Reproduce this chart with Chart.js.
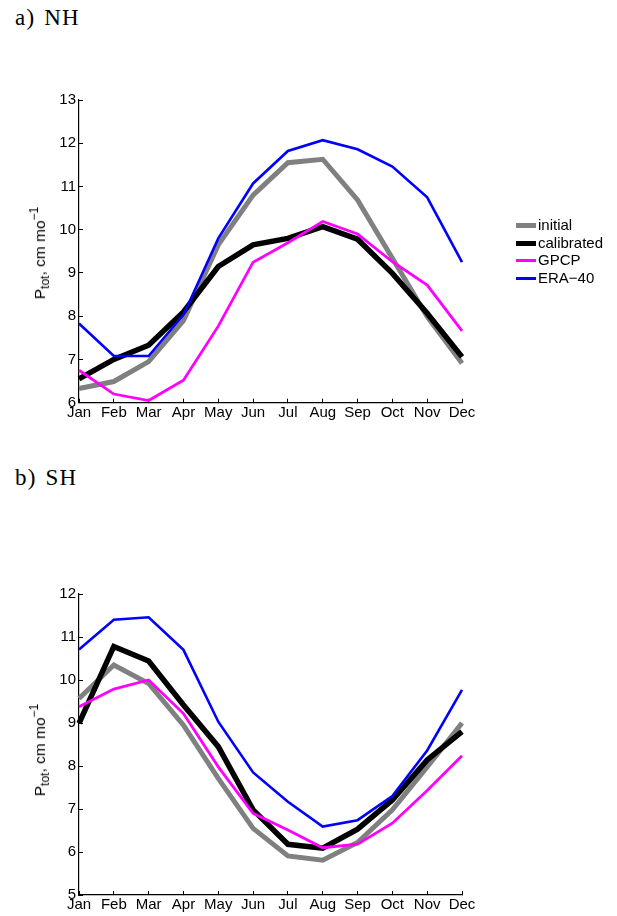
<!DOCTYPE html>
<html><head><meta charset="utf-8">
<script src="https://cdn.jsdelivr.net/npm/chart.js@4/dist/chart.umd.min.js"></script>
<style>
html,body{margin:0;padding:0;background:#fff;width:617px;height:916px;overflow:hidden;}
.wrap{position:absolute;left:0;width:617px;}
.ttl{position:absolute;left:15px;font-family:"Liberation Serif",serif;font-size:23px;letter-spacing:1.2px;word-spacing:2px;color:#000;white-space:nowrap;}
.ylab{position:absolute;font-family:"Liberation Sans",Arial,sans-serif;font-size:15.5px;color:#000;white-space:nowrap;transform:translate(-50%,-50%) rotate(-90deg);}
.ylab sub{font-size:12px;vertical-align:-4px;line-height:0;}
.ylab sup{font-size:12px;vertical-align:7px;line-height:0;}
.leg{position:absolute;left:516px;font-family:"Liberation Sans",Arial,sans-serif;font-size:15px;color:#000;}
.leg .row{position:absolute;left:0;height:18px;white-space:nowrap;}
.leg .sw{position:absolute;left:0;width:20px;}
.leg .tx{position:absolute;left:22px;top:0;line-height:18px;}
</style></head>
<body>
<div class="ttl" style="top:5px;">a) NH</div>
<div class="ttl" style="top:465px;">b) SH</div>
<div class="wrap" style="top:0;height:460px;"><canvas id="c1" width="617" height="460"></canvas></div>
<div class="wrap" style="top:460px;height:456px;"><canvas id="c2" width="617" height="456"></canvas></div>
<div class="ylab" style="left:40px;top:253px;">P<sub>tot</sub>, cm mo<sup>−1</sup></div>
<div class="ylab" style="left:40px;top:750px;">P<sub>tot</sub>, cm mo<sup>−1</sup></div>
<div class="leg" style="top:216px;">
  <div class="row" style="top:0;"><div class="sw" style="top:7px;height:5px;background:#808080;"></div><div class="tx">initial</div></div>
  <div class="row" style="top:18px;"><div class="sw" style="top:7px;height:5px;background:#000;"></div><div class="tx">calibrated</div></div>
  <div class="row" style="top:35px;"><div class="sw" style="top:8px;height:3px;background:#ff00ff;"></div><div class="tx">GPCP</div></div>
  <div class="row" style="top:53px;"><div class="sw" style="top:8px;height:3px;background:#0000ff;"></div><div class="tx">ERA−40</div></div>
</div>
<script>
const months = ["Jan","Feb","Mar","Apr","May","Jun","Jul","Aug","Sep","Oct","Nov","Dec"];
const seriesNames = ["initial","calibrated","GPCP","ERA\u221240"];

// a) NH
const nhInitial    = [6.33, 6.49, 6.95, 7.90, 9.65, 10.80, 11.55, 11.63, 10.69, 9.34, 7.99, 6.91];
const nhCalibrated = [6.55, 7.00, 7.33, 8.10, 9.15, 9.65, 9.80, 10.07, 9.78, 8.99, 8.07, 7.06];
const nhGPCP       = [6.75, 6.20, 6.05, 6.52, 7.77, 9.25, 9.70, 10.19, 9.90, 9.26, 8.72, 7.66];
const nhERA40      = [7.83, 7.08, 7.08, 8.03, 9.80, 11.07, 11.82, 12.07, 11.86, 11.46, 10.75, 9.25];

// b) SH
const shInitial    = [9.57, 10.35, 9.92, 8.95, 7.71, 6.55, 5.91, 5.81, 6.22, 6.98, 7.98, 9.00];
const shCalibrated = [8.99, 10.78, 10.44, 9.42, 8.45, 6.98, 6.18, 6.09, 6.53, 7.21, 8.14, 8.80];
const shGPCP       = [9.38, 9.79, 10.00, 9.22, 7.98, 6.90, 6.51, 6.10, 6.18, 6.67, 7.43, 8.24];
const shERA40      = [10.71, 11.40, 11.46, 10.70, 9.03, 7.85, 7.17, 6.59, 6.74, 7.30, 8.36, 9.77];

const nhTicks = [6, 7, 8, 9, 10, 11, 12, 13];
const shTicks = [5, 6, 7, 8, 9, 10, 11, 12];

const styles = [
  {color:"#808080", width:5, order:4},
  {color:"#000000", width:5.5, order:3},
  {color:"#ff00ff", width:2.8, order:2},
  {color:"#0000ff", width:2.6, order:1}
];

function makeChart(id, data, ticks, padTop, padBottom){
  const datasets = data.map((d,i)=>({
    label: seriesNames[i],
    data: d,
    borderColor: styles[i].color,
    backgroundColor: styles[i].color,
    borderWidth: styles[i].width,
    order: styles[i].order,
    pointRadius: 0,
    tension: 0,
    fill: false,
    borderJoinStyle: "miter",
    borderCapStyle: "butt"
  }));
  const font = {family: "'Liberation Sans', Arial, sans-serif", size: 15};
  return new Chart(document.getElementById(id), {
    type: "line",
    data: {labels: months, datasets},
    options: {
      responsive: false,
      animation: false,
      events: [],
      layout: {padding: {left: 39, right: 155, top: padTop, bottom: padBottom}},
      plugins: {legend: {display: false}, tooltip: {enabled: false}},
      scales: {
        x: {
          type: "category",
          offset: false,
          grid: {display: true, drawOnChartArea: false, drawTicks: true, tickLength: -4, color: "#000", offset: false},
          border: {display: true, color: "#000", width: 1.2},
          ticks: {color: "#000", font, padding: 5, maxRotation: 0, autoSkip: false},
          afterFit: s => { s.height = 20; }
        },
        y: {
          min: ticks[0], max: ticks[ticks.length-1],
          afterBuildTicks: s => { s.ticks = ticks.map(v => ({value: v})); },
          grid: {display: true, drawOnChartArea: false, drawTicks: true, tickLength: -4, color: "#000"},
          border: {display: true, color: "#000", width: 1.2},
          ticks: {color: "#000", font, padding: 7},
          afterFit: s => { s.width = 40; }
        }
      }
    }
  });
}

makeChart("c1", [nhInitial, nhCalibrated, nhGPCP, nhERA40], nhTicks, 100, 37.3);
makeChart("c2", [shInitial, shCalibrated, shGPCP, shERA40], shTicks, 134, 1);
</script>
</body></html>
